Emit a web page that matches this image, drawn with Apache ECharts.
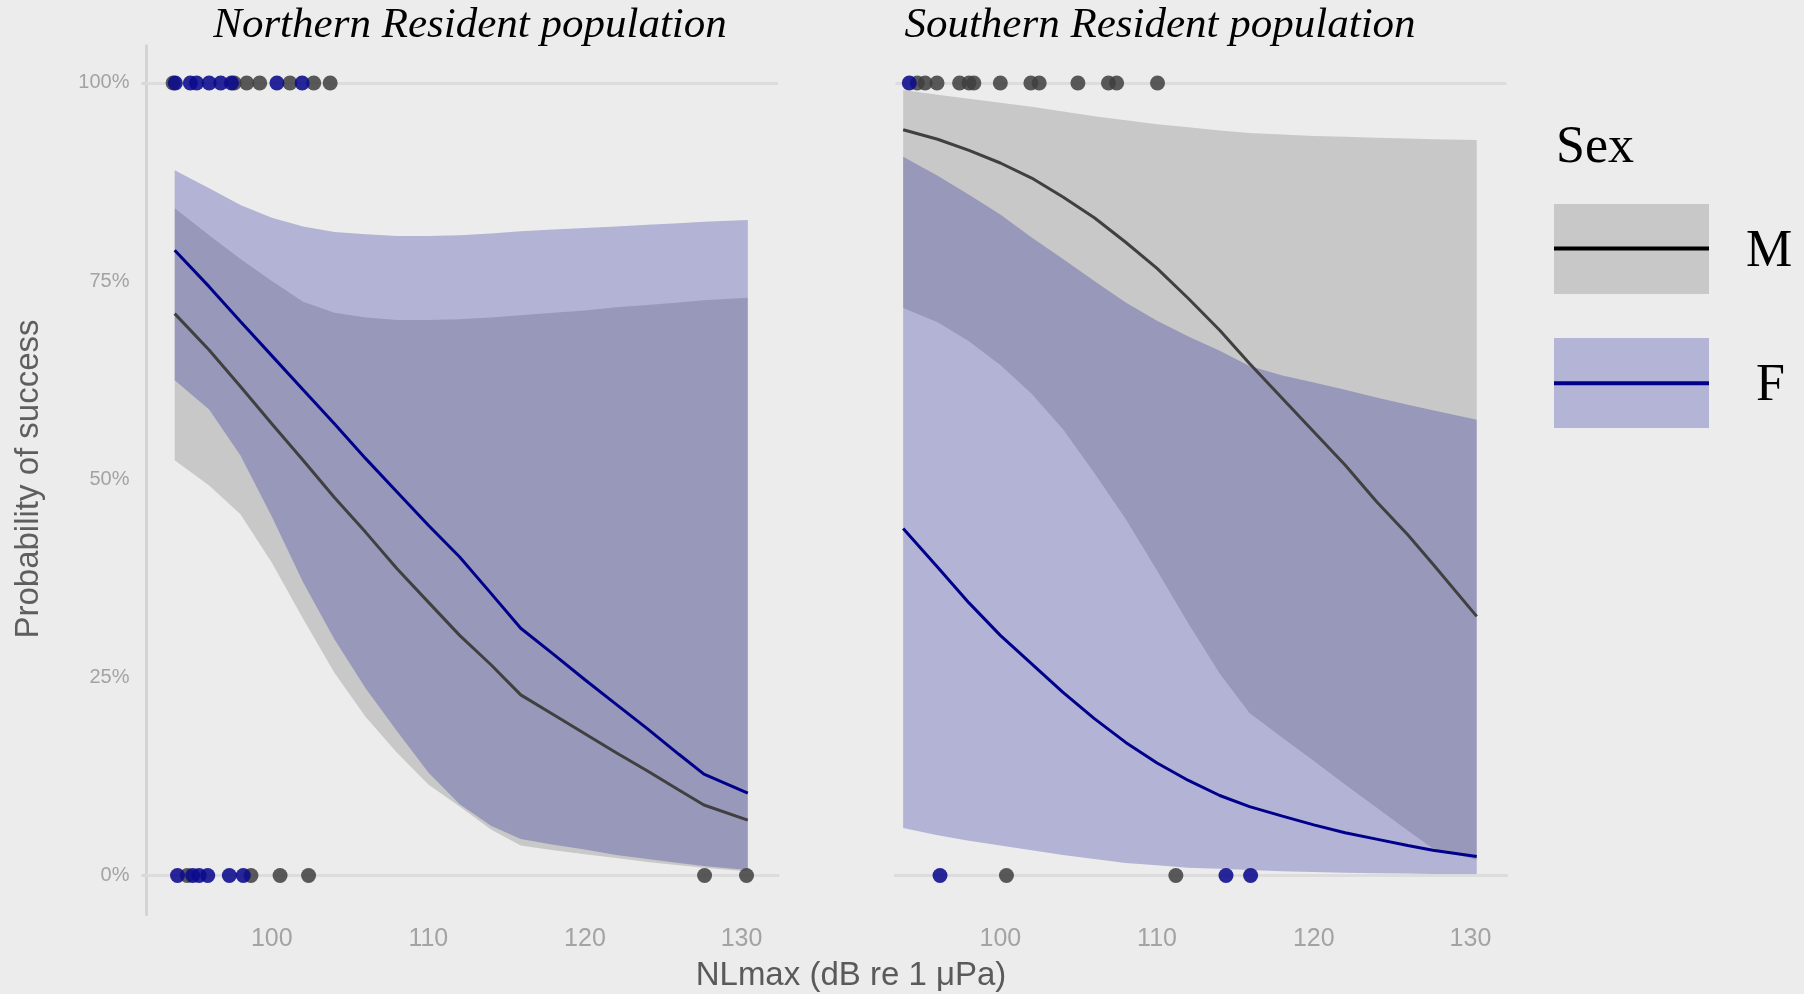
<!DOCTYPE html>
<html><head><meta charset="utf-8">
<script src="https://cdn.jsdelivr.net/npm/echarts@6/dist/echarts.min.js"></script>
<style>html,body{margin:0;padding:0;background:#ececec;} #c{width:1804px;height:994px;}</style>
</head><body><div id="c"></div>
<script>
// NLmax values at which fitted curves were read (dB re 1 µPa)
const nlmax = [93.8, 96, 98, 100, 102, 104, 106, 108, 110, 112, 114, 115.9, 118, 120, 122, 124, 126, 127.6, 130.4];

// Northern Resident population (percent)
const northM_fit = [70.9, 66.3, 61.7, 57.0, 52.4, 47.7, 43.3, 38.7, 34.5, 30.3, 26.6, 22.8, 20.3, 17.9, 15.5, 13.2, 10.8, 8.9, 7.0];
const northM_lo  = [52.4, 49.2, 45.6, 39.5, 32.4, 25.6, 20.0, 15.5, 11.5, 8.7, 5.8, 3.8, 3.2, 2.7, 2.2, 1.7, 1.3, 1.0, 0.5];
const northM_hi  = [84.2, 80.8, 77.8, 75.0, 72.4, 71.0, 70.4, 70.1, 70.1, 70.2, 70.4, 70.7, 71.0, 71.3, 71.7, 72.0, 72.3, 72.6, 72.9];
const northF_fit = [78.9, 74.3, 69.9, 65.6, 61.3, 57.0, 52.6, 48.4, 44.2, 40.2, 35.6, 31.2, 27.9, 24.7, 21.6, 18.5, 15.3, 12.8, 10.4];
const northF_lo  = [62.5, 58.8, 53.0, 45.3, 37.0, 29.8, 23.6, 18.2, 13.0, 9.0, 6.3, 4.6, 3.9, 3.3, 2.6, 2.1, 1.6, 1.2, 0.7];
const northF_hi  = [89.0, 86.7, 84.6, 83.0, 81.9, 81.2, 80.9, 80.7, 80.7, 80.8, 81.0, 81.3, 81.5, 81.7, 81.9, 82.1, 82.3, 82.5, 82.7];

// Southern Resident population (percent)
const southM_fit = [94.1, 92.9, 91.5, 89.9, 88.0, 85.6, 83.0, 79.9, 76.6, 72.8, 68.8, 64.6, 60.2, 56.0, 51.8, 47.2, 43.0, 39.3, 32.7];
const southM_lo  = [71.6, 69.8, 67.4, 64.4, 60.8, 56.3, 50.8, 45.0, 38.5, 31.8, 25.5, 20.5, 17.4, 14.5, 11.5, 8.6, 5.7, 3.4, 2.0];
const southM_hi  = [99.1, 98.5, 98.0, 97.5, 97.0, 96.4, 95.8, 95.3, 94.8, 94.4, 94.0, 93.7, 93.5, 93.3, 93.2, 93.1, 93.0, 92.9, 92.8];
const southF_fit = [43.8, 38.9, 34.4, 30.3, 26.7, 23.1, 19.8, 16.8, 14.2, 12.0, 10.1, 8.7, 7.5, 6.4, 5.4, 4.6, 3.8, 3.2, 2.4];
const southF_lo  = [6.0, 5.1, 4.4, 3.8, 3.2, 2.6, 2.1, 1.6, 1.3, 1.0, 0.85, 0.7, 0.55, 0.45, 0.35, 0.3, 0.25, 0.2, 0.2];
const southF_hi  = [90.7, 88.3, 85.9, 83.4, 80.5, 77.8, 75.0, 72.3, 70.0, 68.0, 66.2, 64.3, 63.1, 62.2, 61.3, 60.3, 59.4, 58.7, 57.5];

// Observations (NLmax) : success = 100%, failure = 0%
const northSuccessF = [93.84, 94.8, 95.2, 96.0, 96.74, 97.43, 100.33, 101.94];
const northSuccessM = [93.7, 97.6, 98.4, 99.23, 101.16, 102.68, 103.73];
const northFailF = [93.98, 94.95, 95.36, 95.91, 97.29, 98.18];
const northFailM = [94.6, 98.67, 100.53, 102.35, 127.64, 130.32];
const southSuccessF = [94.19];
const southSuccessM = [94.7, 95.2, 95.96, 97.4, 98.0, 98.31, 100.0, 101.95, 102.48, 104.95, 106.9, 107.42, 110.03];
const southFailF = [96.15, 114.4, 115.97];
const southFailM = [100.39, 111.2];

const yTicks = [0, 25, 50, 75, 100];
const xTicks = [100, 110, 120, 130];
const panelTitles = ['Northern Resident population', 'Southern Resident population'];
const xTitle = 'NLmax (dB re 1 \u03bcPa)';
const yTitle = 'Probability of success';
const legendTitle = 'Sex';
const sexLabels = ['M', 'F'];

const C_M_BAND = '#c8c8c8';
const C_F_BAND = 'rgba(8,8,148,0.25)';
const C_M_LINE = '#404040';
const C_F_LINE = '#00008b';
const C_M_PT = 'rgba(62,62,62,0.85)';
const C_F_PT = 'rgba(10,10,140,0.88)';

function band(gi, xs, lo, hi, color, z) {
  return {
    type: 'custom', xAxisIndex: gi, yAxisIndex: gi, z: z, silent: true,
    data: xs.map((x, i) => [x, lo[i], hi[i]]),
    encode: { x: 0, y: [1, 2] },
    renderItem: function (params, api) {
      if (params.dataIndex !== 0) return null;
      const pts = [];
      for (let i = 0; i < xs.length; i++) pts.push(api.coord([xs[i], hi[i]]));
      for (let i = xs.length - 1; i >= 0; i--) pts.push(api.coord([xs[i], lo[i]]));
      return { type: 'polygon', shape: { points: pts }, style: { fill: color } };
    }
  };
}
function fitLine(gi, xs, ys, color) {
  return {
    type: 'line', xAxisIndex: gi, yAxisIndex: gi, z: 5, silent: true,
    data: xs.map((x, i) => [x, ys[i]]), showSymbol: false, symbol: 'none',
    lineStyle: { color: color, width: 3 }
  };
}
function pts(gi, xs, yv, color) {
  return {
    type: 'scatter', xAxisIndex: gi, yAxisIndex: gi, z: 6, silent: true,
    data: xs.map(x => [x, yv]), symbolSize: 15,
    itemStyle: { color: color, opacity: 1 }
  };
}
function refLines(gi) {
  return {
    type: 'line', xAxisIndex: gi, yAxisIndex: gi, z: 1, silent: true, data: [],
    markLine: {
      silent: true, symbol: 'none', label: { show: false }, animation: false,
      lineStyle: { color: '#dcdcdc', width: 3, type: 'solid' },
      data: [{ yAxis: 0 }, { yAxis: 100 }]
    }
  };
}

const tickLabelStyle = { color: '#a3a3a3', fontFamily: 'Liberation Sans, Arial, sans-serif' };

const chart = echarts.init(document.getElementById('c'), null, { renderer: 'canvas' });
chart.setOption({
  backgroundColor: '#ececec',
  animation: false,
  grid: [
    { left: 146.5, top: 45.7, width: 631.5, height: 868.7 },
    { left: 895.5, top: 45.7, width: 611, height: 868.7 }
  ],
  xAxis: [
    { type: 'value', gridIndex: 0, min: 92.0, max: 132.33,
      axisLine: { show: true, lineStyle: { color: '#d8d8d8', width: 3 } },
      axisTick: { show: false }, splitLine: { show: false },
      axisLabel: Object.assign({ customValues: xTicks, fontSize: 25, margin: 12 }, tickLabelStyle) },
    { type: 'value', gridIndex: 1, min: 93.31, max: 132.3,
      axisLine: { show: true, lineStyle: { color: '#d8d8d8', width: 3 } },
      axisTick: { show: false }, splitLine: { show: false },
      axisLabel: Object.assign({ customValues: xTicks, fontSize: 25, margin: 12 }, tickLabelStyle) }
  ],
  yAxis: [
    { type: 'value', gridIndex: 0, min: -4.9, max: 104.7,
      axisLine: { show: true, lineStyle: { color: '#d4d4d4', width: 3 } },
      axisTick: { show: true, customValues: [0, 100], length: 5, lineStyle: { color: '#d8d8d8', width: 3 } },
      splitLine: { show: false },
      axisLabel: Object.assign({ customValues: yTicks, fontSize: 20, margin: 17, formatter: v => v + '%' }, tickLabelStyle) },
    { type: 'value', gridIndex: 1, min: -4.9, max: 104.7,
      axisLine: { show: false }, axisTick: { show: false }, splitLine: { show: false },
      axisLabel: { show: false } }
  ],
  series: [
    refLines(0), refLines(1),
    band(0, nlmax, northM_lo, northM_hi, C_M_BAND, 2),
    band(0, nlmax, northF_lo, northF_hi, C_F_BAND, 3),
    band(1, nlmax, southM_lo, southM_hi, C_M_BAND, 2),
    band(1, nlmax, southF_lo, southF_hi, C_F_BAND, 3),
    fitLine(0, nlmax, northM_fit, C_M_LINE),
    fitLine(0, nlmax, northF_fit, C_F_LINE),
    fitLine(1, nlmax, southM_fit, C_M_LINE),
    fitLine(1, nlmax, southF_fit, C_F_LINE),
    pts(0, northSuccessM, 100, C_M_PT), pts(0, northFailM, 0, C_M_PT),
    pts(0, northSuccessF, 100, C_F_PT), pts(0, northFailF, 0, C_F_PT),
    pts(1, southSuccessM, 100, C_M_PT), pts(1, southFailM, 0, C_M_PT),
    pts(1, southSuccessF, 100, C_F_PT), pts(1, southFailF, 0, C_F_PT)
  ],
  graphic: [
    { type: 'text', x: 470, y: 26, silent: true,
      style: { text: panelTitles[0], font: 'italic 43px "Liberation Serif", "Times New Roman", serif', fill: '#000', textAlign: 'center', textVerticalAlign: 'middle' } },
    { type: 'text', x: 1160, y: 26, silent: true,
      style: { text: panelTitles[1], font: 'italic 43px "Liberation Serif", "Times New Roman", serif', fill: '#000', textAlign: 'center', textVerticalAlign: 'middle' } },
    { type: 'text', x: 29, y: 479, rotation: Math.PI / 2, silent: true,
      style: { text: yTitle, font: '33px "Liberation Sans", Arial, sans-serif', fill: '#5e5e5e', textAlign: 'center', textVerticalAlign: 'middle' } },
    { type: 'text', x: 851, y: 976, silent: true,
      style: { text: xTitle, font: '33px "Liberation Sans", Arial, sans-serif', fill: '#5a5a5a', textAlign: 'center', textVerticalAlign: 'middle' } },
    { type: 'text', x: 1556, y: 148, silent: true,
      style: { text: legendTitle, font: '52px "Liberation Serif", "Times New Roman", serif', fill: '#000', textAlign: 'left', textVerticalAlign: 'middle' } },
    { type: 'rect', silent: true, shape: { x: 1554, y: 204, width: 155, height: 90 }, style: { fill: '#c8c8c8' } },
    { type: 'line', silent: true, shape: { x1: 1554, y1: 248.5, x2: 1709, y2: 248.5 }, style: { stroke: '#000', lineWidth: 4 } },
    { type: 'rect', silent: true, shape: { x: 1554, y: 338, width: 155, height: 90 }, style: { fill: '#b3b4d6' } },
    { type: 'line', silent: true, shape: { x1: 1554, y1: 383.3, x2: 1709, y2: 383.3 }, style: { stroke: '#00008b', lineWidth: 4 } },
    { type: 'text', x: 1746, y: 252, silent: true,
      style: { text: sexLabels[0], font: '52px "Liberation Serif", "Times New Roman", serif', fill: '#000', textAlign: 'left', textVerticalAlign: 'middle' } },
    { type: 'text', x: 1756, y: 386, silent: true,
      style: { text: sexLabels[1], font: '52px "Liberation Serif", "Times New Roman", serif', fill: '#000', textAlign: 'left', textVerticalAlign: 'middle' } }
  ]
});
</script>
</body></html>
